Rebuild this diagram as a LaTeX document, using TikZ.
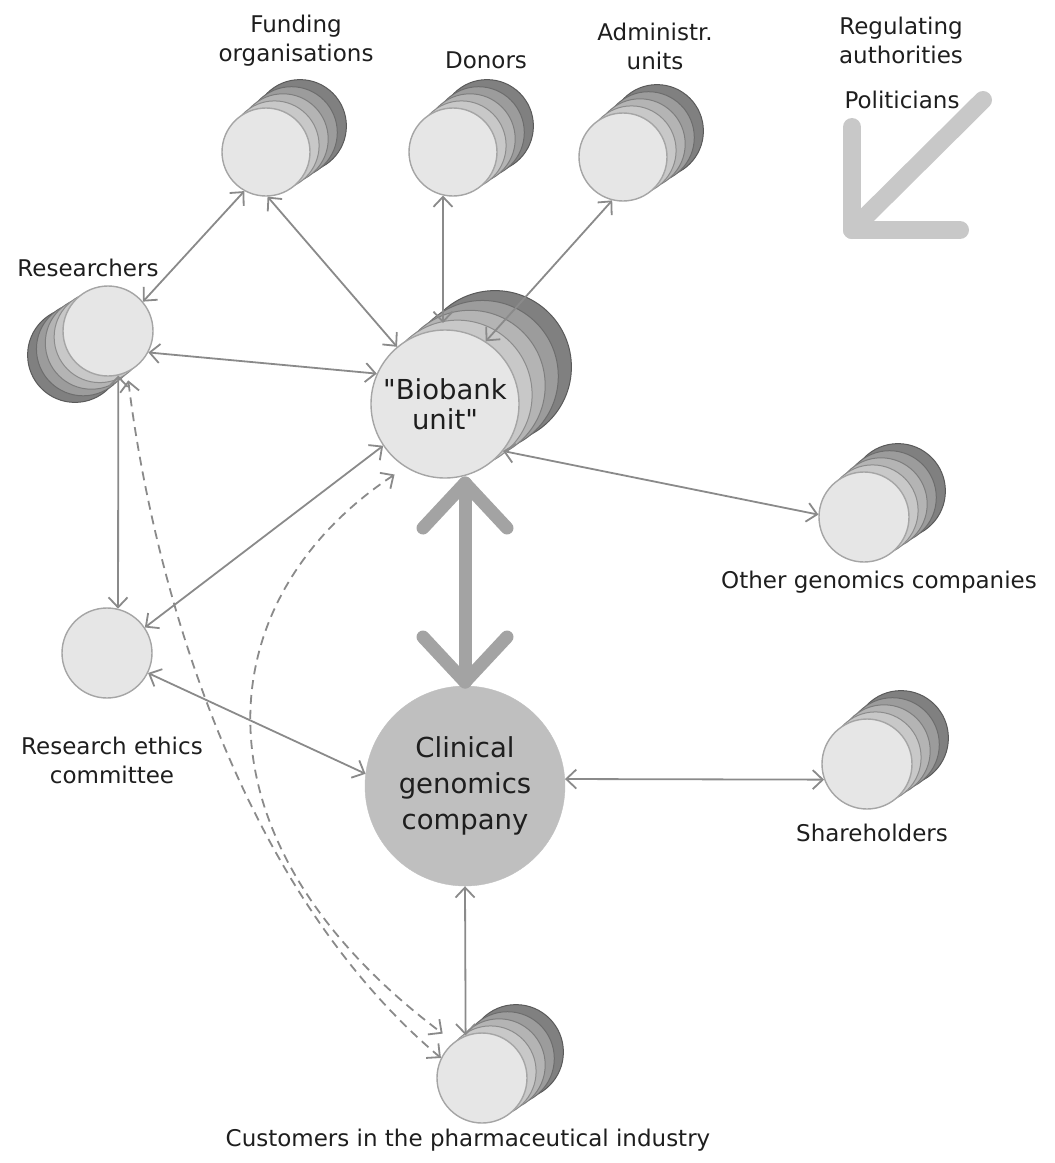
\documentclass[tikz,border=0pt]{standalone}
\usepackage{fontspec}
\setmainfont{DejaVu Sans}
\usetikzlibrary{arrows.meta}
\definecolor{frontgray}{HTML}{E6E6E6}
\definecolor{ringgray}{HTML}{A5A5A5}
\definecolor{linegray}{HTML}{8A8A8A}
\definecolor{Lone}{HTML}{C8C8C8}
\definecolor{Ltwo}{HTML}{B4B4B4}
\definecolor{Lthree}{HTML}{9C9C9C}
\definecolor{Lfour}{HTML}{808080}
\definecolor{clinicalgray}{HTML}{BFBFBF}
\definecolor{thickgray}{HTML}{A3A3A3}
\definecolor{politgray}{HTML}{C8C8C8}
\definecolor{txtgray}{HTML}{1E1E1E}
\newcommand\backstack[5]{%
  \foreach \i/\c in {4/Lfour,3/Lthree,2/Ltwo,1/Lone}
    \draw[draw=\c!70!black, fill=\c, line width=1pt] ({#1+\i*#3},{#2+\i*#4}) circle ({#5+0.6*\i});}
\begin{document}
\begin{tikzpicture}[x=1pt,y=-1pt,
  front/.style={circle, draw=ringgray, fill=frontgray, line width=1.4pt, minimum size=#1, inner sep=0pt},
  front/.default=88pt,
  lbl/.style={font=\fontsize{23}{29}\selectfont, text=txtgray, align=center, inner sep=0pt},
  big/.style={font=\fontsize{27.5}{30}\selectfont, text=txtgray, align=center},
  bigc/.style={font=\fontsize{27.5}{36}\selectfont, text=txtgray, align=center},
  conn/.style={draw=linegray, line width=1.8pt, {Straight Barb[length=10pt,width=19pt]}-{Straight Barb[length=10pt,width=19pt]}},
  dconn/.style={conn, dash pattern=on 9pt off 6pt},
  thickarr/.style={draw=thickgray, line width=13pt, line cap=round, line join=round},
  polit/.style={draw=politgray, line width=18pt, line cap=round, line join=round}]
\useasboundingbox (0,0) rectangle (1055,1163);

% stacks
\backstack{266}{152}{8.5}{-6.5}{44}
\node[front] (fund) at (266,152) {};
\backstack{453}{152}{8.5}{-6.5}{44}
\node[front] (don) at (453,152) {};
\backstack{623}{157}{8.5}{-6.5}{44}
\node[front] (adm) at (623,157) {};
\backstack{108}{331}{-8.25}{6}{45}
\node[front=90pt] (res) at (108,331) {};
\backstack{445}{404}{12.5}{-9.25}{74}
\node[front=148pt, big] (bio) at (445,404) {\textquotedbl Biobank\\unit\textquotedbl};
\backstack{864}{517}{8.5}{-6.5}{45}
\node[front=90pt] (oth) at (864,517) {};
\backstack{867}{764}{8.5}{-6.5}{45}
\node[front=90pt] (shr) at (867,764) {};
\node[front=90pt] (eth) at (107,653) {};
\node[circle, fill=clinicalgray, draw=clinicalgray, minimum size=200pt, inner sep=0pt, bigc] (cli) at (465,786) {Clinical\\genomics\\company};
\backstack{482}{1078}{8.5}{-6.5}{45}
\node[front=90pt] (cus) at (482,1078) {};

% labels
\node[lbl] (fundl) at (296,41) {Funding\\organisations};
\node[lbl] (donl) at (486,60) {Donors};
\node[lbl] (adml) at (655,46) {Administr.\\units};
\node[lbl] (regl) at (901,40) {Regulating\\authorities};
\node[lbl] (poll) at (902,100) {Politicians};
\node[lbl] (resl) at (88,268) {Researchers};
\node[lbl] (othl) at (879,582) {Other genomics companies};
\node[lbl] (shrl) at (872,833) {Shareholders};
\node[lbl] (ethl) at (112,760) {Research ethics\\committee};
\node[lbl] (cusl) at (468,1140) {Customers in the pharmaceutical industry};

% politicians arrow
\coordinate (pa) at (983,100);
\coordinate (pc) at (852,230);
\draw[polit] (pa) -- (pc);
\draw[polit] (852,127) -- (pc) -- (960,230);

% connectors
\coordinate (biotop) at (443,323);
\draw[conn] (res.40) -- (fund.241);
\draw[conn] (fund.272) -- (bio.130);
\draw[conn] (don.257) -- (biotop);
\draw[conn] (adm.256) -- (bio.57);
\draw[conn] (res.-28) -- (bio.156);
\draw[conn] (res.-77) -- (eth.76);
\draw[conn] (bio.214) -- (eth.34);
\draw[conn] (eth.-26) -- (cli.173);
\draw[conn] (bio.-39) -- (oth.177);
\draw[conn] (cli.4) -- (shr.200);
\draw[conn] (cli.270) -- (cus.111);

% thick arrow
\coordinate (ta) at (465,483);
\coordinate (tb) at (465,682);
\draw[thickarr] (ta) -- (tb);
\draw[thickarr] (423,528) -- (ta) -- (507,528);
\draw[thickarr] (423,637) -- (tb) -- (507,637);

% dashed
\draw[dconn, shorten <=8pt] (res.-65) .. controls (150,560) and (230,880) .. (cus.154);
\draw[dconn, shorten <=13pt, shorten >=14pt] (bio.238) .. controls (205,600) and (185,840) .. (cus.128);
\end{tikzpicture}
\end{document}
